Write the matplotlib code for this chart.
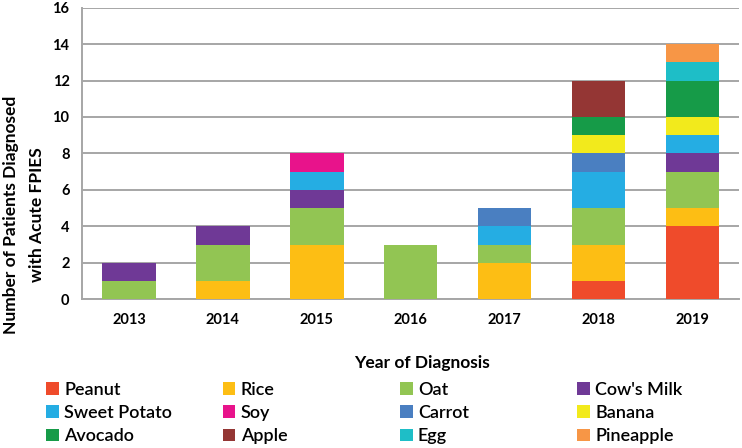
import numpy as np
import matplotlib.pyplot as plt
from matplotlib.patches import Patch

plt.rcParams['font.family'] = ['Lato', 'DejaVu Sans']

years = ['2013', '2014', '2015', '2016', '2017', '2018', '2019']
foods = ['Peanut', 'Rice', 'Oat', "Cow's Milk", 'Sweet Potato', 'Soy',
         'Carrot', 'Banana', 'Avocado', 'Apple', 'Egg', 'Pineapple']
colors = ['#EF4B2B', '#FDBE14', '#92C553', '#6F3996', '#25ADE3', '#E8138B',
          '#4A7FC1', '#F2EA1C', '#169B48', '#943634', '#1EBEC7', '#F79646']

peanut = [0, 0, 0, 0, 0, 1, 4]
rice = [0, 1, 3, 0, 2, 2, 1]
oat = [1, 2, 2, 3, 1, 2, 2]
cows_milk = [1, 1, 1, 0, 0, 0, 1]
sweet_potato = [0, 0, 1, 0, 1, 2, 1]
soy = [0, 0, 1, 0, 0, 0, 0]
carrot = [0, 0, 0, 0, 1, 1, 0]
banana = [0, 0, 0, 0, 0, 1, 1]
avocado = [0, 0, 0, 0, 0, 1, 2]
apple = [0, 0, 0, 0, 0, 2, 0]
egg = [0, 0, 0, 0, 0, 0, 1]
pineapple = [0, 0, 0, 0, 0, 0, 1]

series = [peanut, rice, oat, cows_milk, sweet_potato, soy,
          carrot, banana, avocado, apple, egg, pineapple]

fig = plt.figure(figsize=(7.42, 4.48), dpi=100)
ax = fig.add_axes([0.1105, 0.332, 0.886, 0.651])

x = np.arange(len(years))
bottom = np.zeros(len(years))
for vals, c in zip(series, colors):
    vals = np.array(vals, dtype=float)
    ax.bar(x, vals, bottom=bottom, width=0.57, color=c, zorder=3)
    bottom += vals

ax.set_xlim(-0.5, len(years) - 0.5)
ax.set_ylim(0, 16)
ax.set_yticks(range(0, 17, 2))
ax.set_xticks(x)
ax.set_xticklabels(years)
ax.tick_params(length=0, labelsize=10.5, pad=10)
ax.tick_params(axis='y', pad=9)
for lab in ax.get_xticklabels() + ax.get_yticklabels():
    lab.set_fontweight('bold')
ax.yaxis.grid(True, color='#A6A6A6', linewidth=1.4, zorder=0)
for s in ['top', 'right']:
    ax.spines[s].set_visible(False)
for s in ['left', 'bottom']:
    ax.spines[s].set_color('#A6A6A6')
    ax.spines[s].set_linewidth(1.4)

ax.set_xlabel('Year of Diagnosis', fontsize=12.5, fontweight='bold')
ax.xaxis.set_label_coords(0.517, -0.19)

# y label, one text per line so both are centred
ylab_lines = ['Number of Patients Diagnosed', 'with Acute FPIES']
for xf, line in zip([0.015, 0.050], ylab_lines):
    fig.text(xf, 0.52, line, rotation=90, rotation_mode='anchor',
             ha='center', va='center', family='Lato',
             fontsize=12.5, fontweight='bold')

# legend: four columns placed by hand
col_x = [0.062, 0.300, 0.539, 0.778]
for ci, cx in enumerate(col_x):
    idx = [ci, ci + 4, ci + 8]
    handles = [Patch(facecolor=colors[i], edgecolor='none') for i in idx]
    labels = [foods[i] for i in idx]
    fig.legend(handles, labels, loc='upper left', bbox_to_anchor=(cx, 0.148),
               frameon=False, handlelength=0.7, handleheight=0.7,
               handletextpad=0.3, labelspacing=0.4, borderpad=0,
               borderaxespad=0, prop={'weight': 'semibold', 'size': 13})

fig.savefig('out.png', dpi=100)
